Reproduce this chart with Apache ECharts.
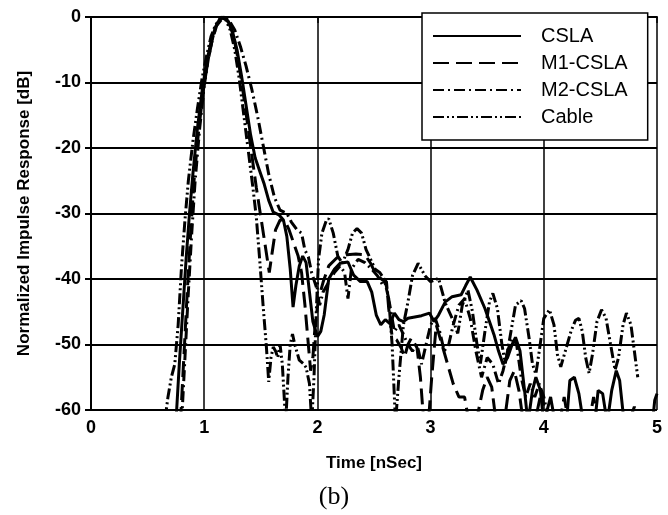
<!DOCTYPE html>
<html>
<head>
<meta charset="utf-8">
<script src="https://cdn.jsdelivr.net/npm/echarts@6/dist/echarts.min.js"></script>
<style>html,body{margin:0;padding:0;background:#fff}#c{width:668px;height:515px}</style>
</head>
<body>
<div id="c"></div>
<script>
// Series names
const seriesNames = ['CSLA', 'M1-CSLA', 'M2-CSLA', 'Cable'];

// CSLA (solid) [time nSec, dB]
const csla = [[0.75,-62],[0.78,-53],[0.81,-45],[0.84,-37],[0.87,-30],[0.9,-24],[0.94,-17],[0.98,-11.5],[1.02,-7],[1.06,-3.8],[1.1,-1.5],[1.14,-0.3],[1.17,0],[1.21,-0.6],[1.25,-2.2],[1.29,-5],[1.33,-9],[1.37,-13.5],[1.41,-18],[1.45,-21.5],[1.49,-23.5],[1.53,-25.5],[1.57,-28],[1.61,-29.8],[1.66,-30.2],[1.7,-31],[1.73,-33.5],[1.76,-38.5],[1.785,-44.3],[1.81,-41],[1.84,-38],[1.87,-36.5],[1.9,-37.5],[1.93,-42],[1.96,-46.5],[2.0,-48.8],[2.03,-48],[2.06,-45.5],[2.1,-40],[2.15,-38.5],[2.2,-37.6],[2.27,-37.4],[2.32,-39.4],[2.38,-40.4],[2.44,-40.4],[2.48,-42],[2.52,-45.5],[2.56,-47],[2.6,-46.2],[2.64,-46.8],[2.68,-45.2],[2.72,-46.2],[2.76,-46.5],[2.8,-46],[2.86,-45.8],[2.92,-45.6],[2.99,-45.2],[3.03,-46.5],[3.07,-45.5],[3.13,-43.5],[3.19,-42.7],[3.27,-42.4],[3.31,-41],[3.35,-39.7],[3.41,-41.7],[3.48,-44.5],[3.53,-47],[3.56,-48.5],[3.6,-51],[3.64,-53],[3.68,-52],[3.72,-50],[3.75,-48.9],[3.79,-51],[3.83,-57],[3.86,-62],[3.9,-57],[3.93,-55],[3.97,-57],[4.0,-62],[4.06,-58],[4.1,-62],[4.2,-62],[4.23,-55.5],[4.27,-55],[4.31,-57.5],[4.35,-62],[4.45,-62],[4.48,-57],[4.52,-57.5],[4.56,-62],[4.6,-57],[4.64,-54],[4.67,-55.5],[4.71,-62],[4.96,-62],[4.98,-58.5],[5.0,-57.5]];

// M1-CSLA (long dash)
const m1 = [[0.79,-62],[0.82,-52],[0.85,-42],[0.88,-33],[0.91,-25],[0.95,-17.5],[0.99,-11.5],[1.03,-7],[1.07,-3.6],[1.11,-1.3],[1.17,0],[1.22,-0.9],[1.26,-3],[1.3,-6.5],[1.34,-11],[1.38,-16],[1.42,-21],[1.46,-26],[1.5,-30.5],[1.54,-35],[1.575,-39],[1.6,-36],[1.63,-32.5],[1.67,-31],[1.71,-31],[1.75,-32.5],[1.79,-34.5],[1.83,-36.5],[1.86,-39],[1.89,-44],[1.92,-50],[1.94,-54],[1.96,-52],[1.98,-47],[2.01,-43],[2.05,-40.5],[2.1,-38],[2.17,-36.8],[2.26,-36.3],[2.34,-36.2],[2.42,-36.3],[2.47,-37.6],[2.52,-39.4],[2.58,-40.2],[2.61,-40.4],[2.63,-44.5],[2.66,-48.8],[2.7,-49.3],[2.74,-50.5],[2.77,-51.9],[2.8,-50],[2.83,-49],[2.88,-50.5],[2.91,-55],[2.94,-62],[2.98,-62],[3.01,-55],[3.05,-47],[3.1,-50],[3.15,-53],[3.2,-56],[3.25,-58],[3.3,-58],[3.34,-62],[3.4,-62],[3.46,-57],[3.5,-55],[3.54,-56.5],[3.58,-62],[3.65,-62],[3.7,-55.5],[3.74,-54],[3.78,-57],[3.82,-62],[3.92,-62],[3.98,-57],[4.02,-62],[4.14,-62],[4.18,-58],[4.22,-62],[4.4,-62],[4.44,-58],[4.48,-62],[4.75,-62],[4.8,-59.5],[4.85,-62]];

// M2-CSLA (dash-dot)
const m2 = [[0.8,-62],[0.83,-52],[0.86,-42],[0.89,-33],[0.92,-25],[0.96,-17],[1.0,-10.5],[1.04,-6],[1.08,-2.8],[1.12,-0.8],[1.17,0],[1.22,-0.5],[1.27,-2],[1.32,-4.5],[1.37,-7.5],[1.42,-11],[1.47,-15],[1.52,-19.5],[1.57,-24],[1.62,-27.5],[1.67,-29.5],[1.73,-30],[1.77,-31.3],[1.82,-32.5],[1.86,-33],[1.89,-35.6],[1.92,-36.6],[1.95,-39.1],[1.99,-41.2],[2.02,-44],[2.05,-42],[2.1,-40.5],[2.15,-39],[2.2,-38],[2.24,-39],[2.27,-43],[2.3,-38.5],[2.36,-37],[2.42,-37.5],[2.48,-38.5],[2.53,-39.5],[2.58,-41],[2.6,-40.2],[2.64,-44],[2.68,-48],[2.72,-47],[2.76,-48.5],[2.8,-50],[2.84,-51],[2.88,-50],[2.92,-53],[2.96,-50],[3.0,-47],[3.04,-46],[3.08,-48],[3.12,-51],[3.16,-50],[3.2,-47],[3.25,-44],[3.3,-43],[3.35,-46],[3.4,-51],[3.45,-55],[3.5,-52],[3.55,-53],[3.6,-56],[3.64,-54],[3.68,-51],[3.72,-49],[3.76,-50],[3.8,-55],[3.84,-58],[3.88,-56],[3.92,-58],[3.96,-56],[4.0,-58],[4.05,-62]];

// Cable (dash-dot-dot)
const cable = [[0.65,-62],[0.68,-58],[0.71,-55],[0.74,-53],[0.77,-47],[0.8,-38],[0.83,-31],[0.86,-25],[0.9,-19],[0.94,-14],[0.98,-9.5],[1.02,-6],[1.06,-3],[1.1,-1.2],[1.15,0],[1.19,-0.4],[1.23,-2],[1.27,-5],[1.31,-9.5],[1.35,-15],[1.39,-20.5],[1.43,-26],[1.46,-30.5],[1.49,-37],[1.52,-44],[1.55,-50.5],[1.57,-55.7],[1.59,-52],[1.61,-50.4],[1.63,-51],[1.65,-52],[1.67,-50],[1.69,-53],[1.72,-62],[1.74,-55],[1.76,-50],[1.78,-48.4],[1.8,-50],[1.84,-52.4],[1.88,-53],[1.9,-53.5],[1.93,-56],[1.95,-62],[1.97,-55],[1.99,-45],[2.01,-37],[2.04,-33],[2.08,-31],[2.1,-30.8],[2.14,-33],[2.18,-36.5],[2.22,-37.6],[2.27,-35.5],[2.31,-33],[2.35,-32.3],[2.39,-33],[2.43,-35.5],[2.47,-37],[2.51,-38.5],[2.55,-39],[2.59,-40],[2.63,-43],[2.66,-50],[2.69,-62],[2.72,-55],[2.76,-47],[2.8,-43.5],[2.84,-39.5],[2.89,-37.6],[2.95,-39.5],[3.0,-40.4],[3.07,-39.9],[3.13,-43.7],[3.19,-46],[3.24,-48.3],[3.28,-44],[3.33,-41.7],[3.37,-45],[3.41,-50],[3.44,-52.9],[3.48,-48],[3.52,-43.5],[3.55,-42.2],[3.59,-44.5],[3.63,-50],[3.66,-52.9],[3.7,-49],[3.75,-44],[3.8,-43.3],[3.83,-44.5],[3.87,-49],[3.9,-53],[3.93,-54.5],[3.96,-51],[4.0,-46],[4.05,-44.7],[4.09,-47],[4.12,-51.5],[4.15,-53.4],[4.19,-51],[4.24,-48],[4.28,-46.3],[4.31,-46],[4.34,-48],[4.37,-52],[4.4,-54.4],[4.43,-51.5],[4.47,-46.5],[4.51,-44.7],[4.55,-46],[4.59,-50],[4.63,-53.9],[4.66,-52],[4.7,-47],[4.73,-45.2],[4.77,-47],[4.8,-51],[4.83,-55]];

const xMin = 0, xMax = 5, xInterval = 1;
const yMin = -60, yMax = 0, yInterval = 10;

const dataSets = [csla, m1, m2, cable];
const dashTypes = ['solid', [16, 7], [11, 4, 2, 4], [11, 3, 2, 3, 2, 3]];

const chart = echarts.init(document.getElementById('c'), null, {renderer: 'canvas'});
const font = '"Liberation Sans", Arial, sans-serif';
chart.setOption({
  animation: false,
  backgroundColor: '#fff',
  grid: {left: 91, right: 11, top: 17, bottom: 105, containLabel: false},
  legend: {
    data: seriesNames,
    orient: 'vertical',
    left: 422, top: 13,
    padding: [13, 20, 13, 10],
    itemWidth: 88, itemHeight: 14, itemGap: 7, itemTextGap: 5,
    backgroundColor: '#fff',
    borderColor: '#000', borderWidth: 1.5,
    itemStyle: {opacity: 0},
    textStyle: {fontFamily: font, fontSize: 20, color: '#000', padding: [0, 12, 0, 15]}
  },
  xAxis: {
    type: 'value', min: xMin, max: xMax, interval: xInterval,
    name: 'Time [nSec]', nameLocation: 'middle', nameGap: 45,
    nameTextStyle: {fontFamily: font, fontWeight: 'bold', fontSize: 17, color: '#000'},
    axisLine: {show: true, lineStyle: {color: '#000', width: 2}},
    axisTick: {show: true, length: 6, lineStyle: {color: '#000', width: 1.5}},
    axisLabel: {fontFamily: font, fontWeight: 'bold', fontSize: 18, color: '#000', margin: 9},
    splitLine: {show: true, lineStyle: {color: '#000', width: 1.5}}
  },
  yAxis: {
    type: 'value', min: yMin, max: yMax, interval: yInterval,
    name: 'Normalized Impulse Response [dB]', nameLocation: 'middle', nameGap: 58,
    nameTextStyle: {fontFamily: font, fontWeight: 'bold', fontSize: 17, color: '#000'},
    axisLine: {show: true, lineStyle: {color: '#000', width: 2}},
    axisTick: {show: true, length: 6, lineStyle: {color: '#000', width: 2}},
    axisLabel: {fontFamily: font, fontWeight: 'bold', fontSize: 18, color: '#000', margin: 10},
    splitLine: {show: true, lineStyle: {color: '#000', width: 2.2}}
  },
  graphic: [{
    type: 'text', left: 'center', top: 484,
    style: {text: '(b)', font: '26px "Liberation Serif", "Times New Roman", serif', fill: '#000'}
  }],
  series: seriesNames.map((n, i) => ({
    name: n, type: 'line', data: dataSets[i], symbol: 'none', clip: true,
    lineStyle: {color: '#000', width: 3, type: dashTypes[i]},
    itemStyle: {color: '#000'}
  }))
});
</script>
</body>
</html>
